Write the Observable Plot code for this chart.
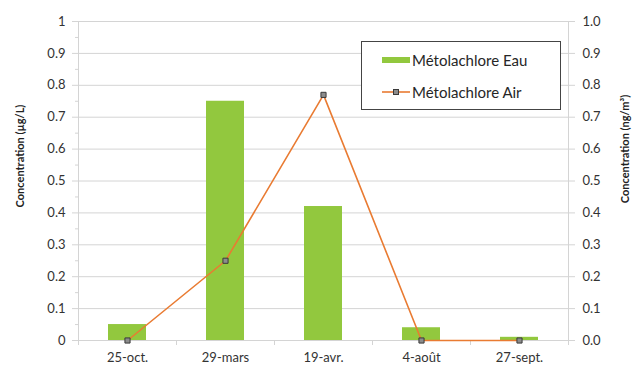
<!DOCTYPE html>
<html>
<head>
<meta charset="utf-8">
<script src="https://cdn.jsdelivr.net/npm/d3@7"></script>
<script src="https://cdn.jsdelivr.net/npm/@observablehq/plot@0.6"></script>
<style>
  body { margin: 0; background: #fff; }
  #chart { position: relative; width: 634px; height: 365px; font-family: Lato, "Open Sans", sans-serif; }
  #chart svg { display: block; }
  .legend { position: absolute; left: 361px; top: 41px; width: 200px; height: 69px;
            border: 1px solid #444; background: #fff; box-sizing: border-box;
            font-size: 15px; color: #262626; }
  .legend .row { position: absolute; left: 20px; height: 20px; display: flex; align-items: center; }
  .legend .row svg { margin-right: 2px; }
</style>
</head>
<body>
<div id="chart"></div>
<script>
// Sampling dates
const dates = ["25-oct.", "29-mars", "19-avr.", "4-août", "27-sept."];
// Métolachlore in water (µg/L), left axis
const eau = [0.05, 0.75, 0.42, 0.04, 0.01];
// Métolachlore in air (ng/m³), right axis
const air = [0.0, 0.25, 0.77, 0.0, 0.0];
// Axis ticks and their labels
const majorTicks = [0, 0.1, 0.2, 0.3, 0.4, 0.5, 0.6, 0.7, 0.8, 0.9, 1];
const minorTicks = [0.05, 0.15, 0.25, 0.35, 0.45, 0.55, 0.65, 0.75, 0.85, 0.95];
const leftLabels = ["0", "0.1", "0.2", "0.3", "0.4", "0.5", "0.6", "0.7", "0.8", "0.9", "1"];
const rightLabels = ["0.0", "0.1", "0.2", "0.3", "0.4", "0.5", "0.6", "0.7", "0.8", "0.9", "1.0"];
const seriesNames = ["Métolachlore Eau", "Métolachlore Air"];
const leftTitle = "Concentration (µg/L)";
const rightTitle = "Concentration (ng/m³)";

const rows = dates.map((date, i) => ({date, eau: eau[i], air: air[i]}));

const green = "#92C83E";
const orange = "#E97B32";
const axisGray = "#d4d4d4";

const W = 634, H = 365, mL = 78, mR = 66, mT = 21, mB = 25;
const halfStep = (W - mL - mR) / dates.length / 2;

const chart = Plot.plot({
  width: W, height: H,
  marginLeft: mL, marginRight: mR, marginTop: mT, marginBottom: mB,
  style: {fontFamily: "Lato, 'Open Sans', sans-serif", fontSize: "13px", color: "#333", background: "#fff"},
  x: {domain: dates, paddingInner: 0.61, paddingOuter: 0.305, label: null},
  y: {domain: [0, 1], label: null},
  marks: [
    Plot.gridY(majorTicks, {stroke: axisGray, strokeOpacity: 1}),
    Plot.barY(rows, {x: "date", y: "eau", fill: green}),
    // left and right axis lines
    Plot.frame({anchor: "left", stroke: axisGray}),
    Plot.frame({anchor: "right", stroke: axisGray}),
    Plot.ruleY([0], {stroke: axisGray}),
    // category boundary ticks below the baseline
    Plot.ruleX(dates, {x: d => d, dx: -halfStep, y1: 0, y2: 0, insetBottom: -5, stroke: axisGray}),
    Plot.ruleX(dates.slice(-1), {x: d => d, dx: halfStep, y1: 0, y2: 0, insetBottom: -5, stroke: axisGray}),
    Plot.line(rows, {x: "date", y: "air", stroke: orange, strokeWidth: 1.6}),
    Plot.dot(rows, {x: "date", y: "air", symbol: "square", r: 2.9, fill: "#8c8c8c", stroke: "#3a3a3a", strokeWidth: 1}),
    Plot.axisX({tickSize: 0, tickPadding: 12, fill: "#333"}),
    Plot.axisY(majorTicks, {anchor: "left", tickSize: 6, tickPadding: 7, stroke: axisGray, fill: "#333",
      tickFormat: d => leftLabels[Math.round(d * 10)]}),
    Plot.axisY(minorTicks, {anchor: "left", tickSize: 3, stroke: axisGray, tickFormat: () => ""}),
    Plot.axisY(majorTicks, {anchor: "right", tickSize: 6, tickPadding: 8, stroke: axisGray, fill: "#333",
      tickFormat: d => rightLabels[Math.round(d * 10)]}),
    Plot.text([leftTitle], {frameAnchor: "left", textAnchor: "middle", rotate: -90, dx: -58, dy: -25,
      fontWeight: "bold", fontSize: 11, fill: "#222"}),
    Plot.text([rightTitle], {frameAnchor: "right", textAnchor: "middle", rotate: -90, dx: 57, dy: -32,
      fontWeight: "bold", fontSize: 11, fill: "#222"})
  ]
});

const root = document.getElementById("chart");
root.appendChild(chart);

// Legend box
const legend = document.createElement("div");
legend.className = "legend";
legend.innerHTML = `
  <div class="row" style="top:8px">
    <svg width="28" height="10"><rect x="0" y="2" width="28" height="6" fill="${green}"/></svg>
    <span>${seriesNames[0]}</span>
  </div>
  <div class="row" style="top:40px">
    <svg width="28" height="10"><line x1="0" x2="28" y1="5" y2="5" stroke="${orange}" stroke-width="1.6"/>
    <rect x="11.5" y="2.5" width="5" height="5" fill="#8c8c8c" stroke="#3a3a3a" stroke-width="1"/></svg>
    <span>${seriesNames[1]}</span>
  </div>`;
root.appendChild(legend);
</script>
</body>
</html>
